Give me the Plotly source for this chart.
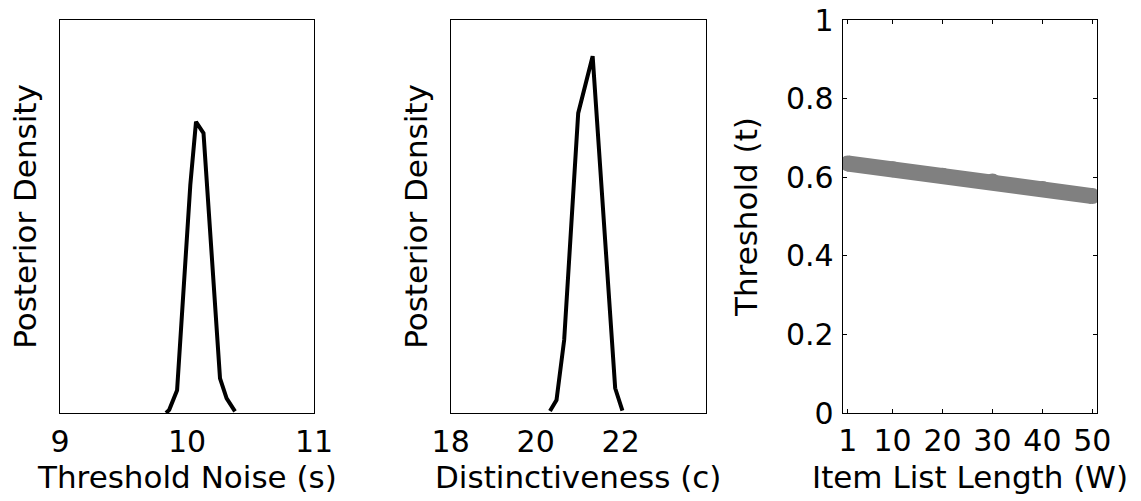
import plotly.graph_objects as go

# ---- data ----
noise_s = [9.835, 9.86, 9.922, 10.026, 10.071, 10.13, 10.26, 10.312, 10.378]
noise_density = [0.0, 0.008, 0.058, 0.58, 0.741, 0.712, 0.088, 0.037, 0.004]

dist_c = [20.336, 20.49, 20.67, 21.0, 21.34, 21.87, 22.04]
dist_density = [0.005, 0.033, 0.186, 0.763, 0.908, 0.063, 0.006]

list_len_W = [1, 10, 20, 30, 40, 50]
threshold_t = [0.635, 0.62, 0.604, 0.589, 0.570, 0.552]

x1_ticks = [9, 10, 11]
x2_ticks = [18, 20, 22]
x3_ticks = [1, 10, 20, 30, 40, 50]
y3_ticks = [0, 0.2, 0.4, 0.6, 0.8, 1]
y3_ticktext = ["0", "0.2", "0.4", "0.6", "0.8", "1"]

x_titles = ["Threshold Noise (s)", "Distinctiveness (c)", "Item List Length (W)"]

W, H = 1141, 501
FONT = "DejaVu Sans"
FS_TICK = 30
FS_TITLE = 31

def fx(a, b):
    return [a / W, b / W]

ydom = [(H - 413) / H, (H - 20) / H]
dom1, dom2, dom3 = fx(60, 314), fx(450.7, 705.7), fx(842.7, 1097.3)

fig = go.Figure()
fig.add_trace(go.Scatter(x=noise_s, y=noise_density, mode="lines",
                         line=dict(color="black", width=4), xaxis="x", yaxis="y",
                         showlegend=False))
fig.add_trace(go.Scatter(x=dist_c, y=dist_density, mode="lines",
                         line=dict(color="black", width=4), xaxis="x2", yaxis="y2",
                         showlegend=False))
fig.add_trace(go.Scatter(x=list_len_W, y=threshold_t, mode="lines+markers",
                         line=dict(color="#808080", width=16),
                         marker=dict(color="#808080", size=16),
                         xaxis="x3", yaxis="y3", showlegend=False))

common = dict(showline=True, linecolor="black", linewidth=1, mirror=True, automargin=False,
              showgrid=False, zeroline=False, ticklabeloverflow="allow",
              tickfont=dict(family=FONT, size=FS_TICK, color="black"))
ytitle_font = dict(family=FONT, size=FS_TITLE, color="black")

fig.update_layout(
    width=W, height=H,
    margin=dict(l=0, r=0, t=0, b=0),
    paper_bgcolor="white", plot_bgcolor="white",
    font=dict(family=FONT, size=FS_TICK, color="black"),
    xaxis=dict(domain=dom1, range=[9, 11], tickvals=x1_ticks, ticks="",
               ticklabelstandoff=2, **common),
    yaxis=dict(domain=ydom, range=[0, 1], showticklabels=False, ticks="",
               title=dict(text="Posterior Density", standoff=13, font=ytitle_font),
               anchor="x", **common),
    xaxis2=dict(domain=dom2, range=[18, 24], tickvals=x2_ticks, ticks="",
                ticklabelstandoff=2, anchor="y2", **common),
    yaxis2=dict(domain=ydom, range=[0, 1], showticklabels=False, ticks="", anchor="x2",
                title=dict(text="Posterior Density", standoff=12, font=ytitle_font),
                **common),
    xaxis3=dict(domain=dom3, range=[0, 51], tickvals=x3_ticks,
                ticks="inside", ticklen=4, tickcolor="black", anchor="y3",
                ticklabelstandoff=1,
                **{**common, "mirror": "allticks"}),
    yaxis3=dict(domain=ydom, range=[0, 1], tickvals=y3_ticks, ticktext=y3_ticktext,
                ticks="inside", ticklen=4, tickcolor="black", anchor="x3",
                ticklabelstandoff=2,
                title=dict(text="Threshold (t)", standoff=19, font=ytitle_font),
                **{**common, "mirror": "allticks"}),
)

title_y = 1 - 477 / H
for dom, txt in zip([dom1, dom2, dom3], x_titles):
    fig.add_annotation(text=txt, x=(dom[0] + dom[1]) / 2, y=title_y, xref="paper", yref="paper",
                       xanchor="center", yanchor="middle", showarrow=False,
                       font=dict(family=FONT, size=FS_TITLE, color="black"))

fig.write_html("out.html", config={"displayModeBar": False},
               post_script="document.body.style.margin='0';document.body.style.padding='0';")
